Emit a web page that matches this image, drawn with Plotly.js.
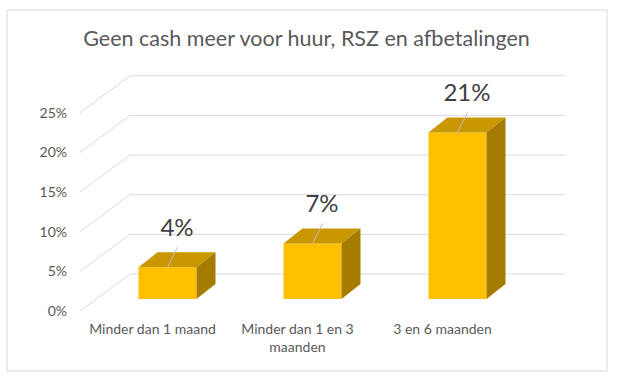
<!DOCTYPE html>
<html>
<head>
<meta charset="utf-8">
<script src="https://cdn.plot.ly/plotly-3.0.1.min.js"></script>
<style>html,body{margin:0;padding:0;background:#fff;}#chart{width:621px;height:381px;}</style>
</head>
<body>
<div id="chart"></div>
<script>
// ---- data ----
const categories = ['Minder dan 1 maand', 'Minder dan 1 en 3<br>maanden', '3 en 6 maanden'];
const values = [4, 7, 21];
const valueLabels = ['4%', '7%', '21%'];
const yTickValues = [0, 5, 10, 15, 20, 25];
const yTickLabels = ['0%', '5%', '10%', '15%', '20%', '25%'];
const chartTitle = 'Geen cash meer voor huur, RSZ en afbetalingen';

// ---- geometry / style (pixel-based oblique projection converted to axis units) ----
const W = 621, H = 381;
const ML = 80, MR = 56, MT = 70, MB = 70;
const plotW = W - ML - MR, plotH = H - MT - MB;
const PX_X = 145;   // px per category
const PX_Y = 7.93;  // px per percent
const ux = p => p / PX_X;
const uy = p => p / PX_Y;
const xRange = [-0.5, -0.5 + ux(plotW)];
const yRange = [0, uy(plotH)];
const WALL = {dx: 50, dy: 37};
const BAR_SHIFT = {dx: 15, dy: 12};
const BAR_DEPTH = {dx: 19, dy: 15};
const BAR_W = 0.4;
const FONT = 'Lato, "Open Sans", sans-serif';
const GRID = '#D9D9D9';

// gridlines (back wall + side wall diagonals)
const shapes = [];
yTickValues.forEach(v => {
  const xb = -0.5 + ux(WALL.dx), yb = v + uy(WALL.dy);
  shapes.push({type: 'line', xref: 'x', yref: 'y', x0: -0.5, y0: v, x1: xb, y1: yb, line: {color: GRID, width: 1}, layer: 'below'});
  shapes.push({type: 'line', xref: 'x', yref: 'y', x0: xb, y0: yb, x1: xRange[1], y1: yb, line: {color: GRID, width: 1}, layer: 'below'});
});
// chart border
shapes.push({type: 'rect', xref: 'paper', yref: 'paper',
  x0: (7 - ML) / plotW, x1: (607 - ML) / plotW,
  y0: (H - MB - 371) / plotH, y1: (H - MB - 10) / plotH,
  line: {color: GRID, width: 1}, fillcolor: 'rgba(0,0,0,0)'});

const traces = [];
const base0 = uy(BAR_SHIFT.dy);
const ddx = ux(BAR_DEPTH.dx), ddy = uy(BAR_DEPTH.dy);
categories.forEach((c, i) => {
  const xc = i + ux(BAR_SHIFT.dx);
  const x0 = xc - BAR_W / 2, x1 = xc + BAR_W / 2;
  const top = base0 + values[i];
  // top face
  traces.push({type: 'scatter', mode: 'lines', fill: 'toself', fillcolor: '#C99700',
    line: {width: 0, color: '#C99700'}, hoverinfo: 'skip', showlegend: false,
    x: [x0, x1, x1 + ddx, x0 + ddx, x0], y: [top, top, top + ddy, top + ddy, top]});
  // side face
  traces.push({type: 'scatter', mode: 'lines', fill: 'toself', fillcolor: '#A67C00',
    line: {width: 0, color: '#A67C00'}, hoverinfo: 'skip', showlegend: false,
    x: [x1, x1, x1 + ddx, x1 + ddx, x1], y: [base0, top, top + ddy, base0 + ddy, base0]});
  // leader line
  traces.push({type: 'scatter', mode: 'lines', line: {color: '#BFBFBF', width: 1},
    hoverinfo: 'skip', showlegend: false,
    x: [xc, xc + ux(10)], y: [top, top + uy(20)]});
});
// front faces
traces.push({type: 'bar', x: categories.map((c, i) => i + ux(BAR_SHIFT.dx)), y: values,
  base: values.map(() => base0), width: BAR_W, marker: {color: '#FFC000', line: {width: 0}},
  hoverinfo: 'skip', showlegend: false});
// data labels
traces.push({type: 'scatter', mode: 'text', showlegend: false, hoverinfo: 'skip',
  x: categories.map((c, i) => i + ux(BAR_SHIFT.dx) + ddx / 2),
  y: values.map(v => base0 + v + ddy / 2 + uy(30)),
  text: valueLabels, textposition: 'middle center',
  textfont: {family: FONT, size: 24, color: '#404040'}, cliponaxis: false});

const layout = {
  width: W, height: H,
  margin: {l: ML, r: MR, t: MT, b: MB},
  paper_bgcolor: '#fff', plot_bgcolor: 'rgba(0,0,0,0)',
  title: {text: chartTitle, x: 306.5 / W, xanchor: 'center', xref: 'container',
    y: 1 - 38.5 / H, yanchor: 'middle', yref: 'container',
    font: {family: FONT, size: 21.5, color: '#595959'}},
  xaxis: {range: xRange, tickmode: 'array', tickvals: [0, 1, 2], ticktext: categories,
    showgrid: false, zeroline: false, showline: false, ticks: '', ticklabelstandoff: 8,
    tickfont: {family: FONT, size: 14, color: '#595959'}, fixedrange: true},
  yaxis: {range: yRange, tickmode: 'array', tickvals: yTickValues, ticktext: yTickLabels,
    showgrid: false, zeroline: false, showline: false, ticks: '', ticklabelstandoff: 12,
    tickfont: {family: FONT, size: 14, color: '#595959'}, fixedrange: true},
  shapes: shapes,
  showlegend: false,
  barmode: 'overlay'
};
Plotly.newPlot('chart', traces, layout, {displayModeBar: false, staticPlot: true});
</script>
</body>
</html>
